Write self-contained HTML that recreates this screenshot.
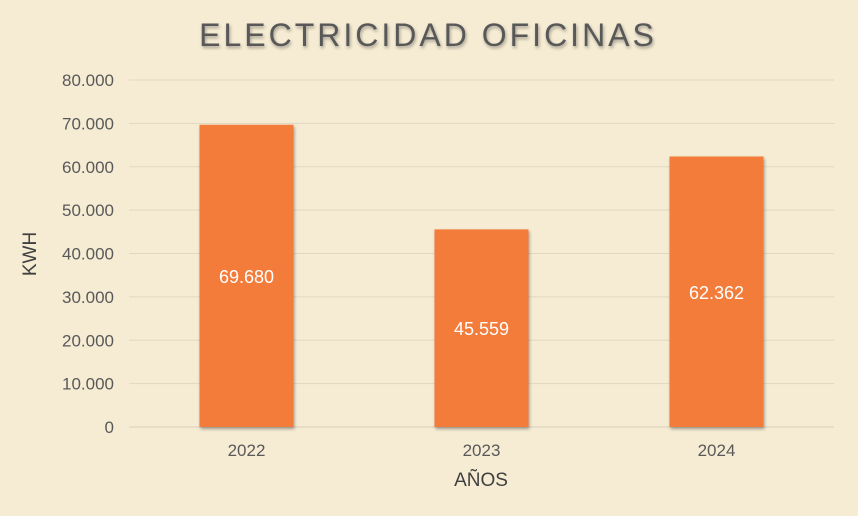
<!DOCTYPE html>
<html><head><meta charset="utf-8">
<style>
html,body{margin:0;padding:0;background:#F6ECD4;}
svg{display:block;font-family:"Liberation Sans",sans-serif;}
</style></head>
<body>
<svg id="chart" width="858" height="516" viewBox="0 0 858 516">
<defs><filter id="sh" x="-5%" y="-20%" width="110%" height="150%"><feDropShadow dx="1" dy="2" stdDeviation="1.5" flood-color="#000" flood-opacity="0.35"/></filter></defs>
<rect width="858" height="516" fill="#F6ECD4"/>
<text x="428" y="46" text-anchor="middle" font-size="32" fill="#595959" letter-spacing="3" filter="url(#sh)">ELECTRICIDAD OFICINAS</text>
<g id="grid"></g><g id="bars"></g><g id="labels"></g>
<text transform="translate(36,254) rotate(-90)" text-anchor="middle" font-size="19" fill="#404040">KWH</text>
<text x="481" y="486" text-anchor="middle" font-size="19" fill="#404040">AÑOS</text>
</svg>
<script>
const categories=["2022","2023","2024"];
const values=[69680,45559,62362];
const valueLabels=["69.680","45.559","62.362"];
const yTicks=[0,10000,20000,30000,40000,50000,60000,70000,80000];
const yTickLabels=["0","10.000","20.000","30.000","40.000","50.000","60.000","70.000","80.000"];
const NS="http://www.w3.org/2000/svg";
const L=129,R=834,T=80,B=427,MAX=80000;
const y=v=>B-(v/MAX)*(B-T);
const bw=(R-L)/categories.length;
const x=i=>L+bw*(i+0.5);
function mk(t,a,p,txt){const e=document.createElementNS(NS,t);for(const k in a)e.setAttribute(k,a[k]);if(txt!==undefined)e.textContent=txt;p.appendChild(e);return e;}
const grid=document.getElementById('grid'),bars=document.getElementById('bars'),labels=document.getElementById('labels');
yTicks.forEach((v,i)=>{
  const ln=mk('line',{x1:L,x2:R,y1:y(v),y2:y(v),stroke:v===0?'#D9D0BC':'#E2D8C2','stroke-width':1},grid);
  
  
  const t=mk('text',{x:114,y:y(v)+6,'text-anchor':'end','font-size':17,fill:'#595959'},grid,yTickLabels[i]);
  
  
});
categories.forEach((c,i)=>{
  const w=bw*0.4;
  const r=mk('rect',{x:x(i)-w/2,y:y(values[i]),width:w,height:B-y(values[i]),fill:'#F47B3A',filter:'url(#sh)'},bars);
  
  
  const vl=mk('text',{x:x(i),y:(y(values[i])+B)/2+7,'text-anchor':'middle','font-size':18,fill:'#fff'},labels,valueLabels[i]);
  
  
  const xl=mk('text',{x:x(i),y:456,'text-anchor':'middle','font-size':17,fill:'#595959'},labels,c);
  
  
});
</script>
</body></html>
